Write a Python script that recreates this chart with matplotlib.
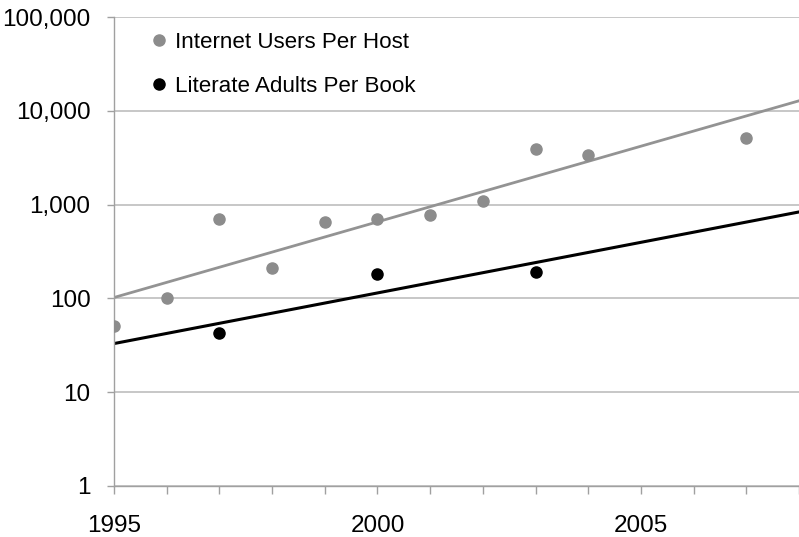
import numpy as np
import matplotlib.pyplot as plt
from matplotlib.ticker import FixedLocator, FuncFormatter, MultipleLocator

plt.rcParams['font.family'] = ['Liberation Sans', 'DejaVu Sans']

host_years = [1995, 1996, 1997, 1998, 1999, 2000, 2001, 2002, 2003, 2004, 2007]
users_per_host = [51, 102, 700, 210, 650, 700, 775, 1100, 3900, 3380, 5100]

book_years = [1997, 2000, 2003]
adults_per_book = [43, 182, 191]

gray = '#8c8c8c'

fig = plt.figure(figsize=(7.99, 5.37), dpi=100)
ax = fig.add_axes([0.1427, 0.095, 0.8573, 0.8733])

ax.plot(host_years, users_per_host, 'o', color=gray, markersize=8,
        label='Internet Users Per Host', zorder=3)
ax.plot(book_years, adults_per_book, 'o', color='black', markersize=8,
        label='Literate Adults Per Book', zorder=3)

# exponential trend lines (least squares on log values)
xs = np.array([1995, 2008])
for yrs, vals, col, lw in [(host_years, users_per_host, '#939393', 2.0),
                           (book_years, adults_per_book, 'black', 2.2)]:
    k, b = np.polyfit(np.array(yrs) - 1995, np.log10(vals), 1)
    ax.plot(xs, 10 ** (k * (xs - 1995) + b), color=col, lw=lw, zorder=2)

ax.set_yscale('log')
ax.set_ylim(1, 100000)
ax.set_xlim(1995, 2008)
ax.yaxis.set_major_locator(FixedLocator([1, 10, 100, 1000, 10000, 100000]))
ax.yaxis.set_minor_locator(FixedLocator([]))
ax.yaxis.set_major_formatter(FuncFormatter(lambda v, p: f'{int(v):,}'))
ax.xaxis.set_major_locator(FixedLocator([1995, 2000, 2005]))
ax.xaxis.set_minor_locator(MultipleLocator(1))

ax.grid(axis='y', color='#b8b8b8', lw=1.1)
ax.set_axisbelow(True)
for s in ['top', 'right']:
    ax.spines[s].set_visible(False)
for s in ['left', 'bottom']:
    ax.spines[s].set_color('#a0a0a0')
    ax.spines[s].set_linewidth(1.0)

ax.tick_params(axis='y', length=5, width=1, color='#a0a0a0', pad=12,
               labelsize=17.5)
ax.tick_params(axis='x', which='both', length=6, width=1, color='#a0a0a0',
               pad=15, labelsize=17.5)

ax.legend(loc='upper left', bbox_to_anchor=(0.016, 1.012), frameon=False,
          fontsize=16.1, handletextpad=0.15, labelspacing=1.03,
          markerscale=1.0, handlelength=1.2)

fig.savefig('out.png', dpi=100)
